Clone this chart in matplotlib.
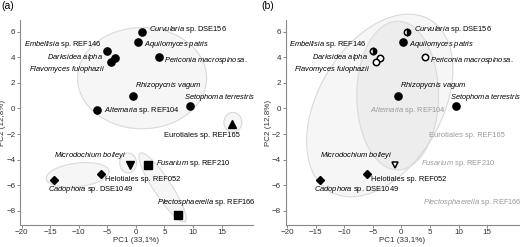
import numpy as np
import matplotlib
matplotlib.use("Agg")
import matplotlib.pyplot as plt

plt.rcParams['font.family'] = ['Liberation Sans', 'DejaVu Sans']
plt.rcParams['mathtext.fontset'] = 'custom'
plt.rcParams['mathtext.it'] = 'Liberation Sans:italic'
plt.rcParams['mathtext.rm'] = 'Liberation Sans'

# PCA scores
taxa = ["Curvularia sp. DSE156", "Aquilomyces patris", "Embellisia sp. REF146",
        "Darksidea alpha", "Flavomyces fulophazii", "Periconia macrospinosa.",
        "Rhizopycnis vagum", "Setophoma terrestris", "Alternaria sp. REF104",
        "Eurotiales sp. REF165", "Microdochium bolleyi", "Fusarium sp. REF210",
        "Plectosphaerella sp. REF166", "Helotiales sp. REF052", "Cadophora sp. DSE1049"]
pc1 = [1.0, 0.3, -5.0, -3.75, -4.45, 4.1, -0.6, 9.5, -6.8,
       16.9, -1.1, 2.1, 7.4, -6.1, -14.3]
pc2 = [5.95, 5.2, 4.45, 3.9, 3.65, 4.05, 1.0, 0.2, -0.1,
       -1.2, -4.45, -4.4, -8.35, -5.15, -5.55]
shape = ['o'] * 9 + ['^', 'v', 's', 's', 'D', 'D']
# panel (b) marker fill: full / half / open / None (no marker, grey label)
fill_b = ['half', 'full', 'half', 'open', 'open', 'open', 'full', 'full', None,
          None, 'open', None, None, 'full', 'full']
upright_genus = ["Eurotiales", "Helotiales"]

# label placement: offset in pixels (dx right, dy down), alignment
lab_pos = [(7, -3, 'left'), (6, 3, 'left'), (-6, -7, 'right'), (-12, -1, 'right'),
           (-6, 8, 'right'), (5, 4, 'left'), (2, -10, 'left'), (-6, -8, 'left'),
           (7, 1, 'left'), (7, 12, 'right'), (-3, -10, 'right'), (8, -1, 'left'),
           (-21, -13, 'left'), (4, 5, 'left'), (-6, 10, 'left')]

# group ellipses: centre, two conjugate semi-axes (data units)
ell_a = [((1.08, 2.36), (11.3, 0.0), (0.0, 3.95)),
         ((16.97, -1.09), (1.57, 0.0), (0.0, 0.78)),
         ((-1.36, -4.26), (1.48, 0.0), (0.0, 0.78)),
         ((4.66, -6.16), (3.93, -2.67), (1.31, 0.38)),
         ((-10.2, -5.19), (5.5, 0.25), (0.0, 0.93))]
ell_b = [((-3.8, 0.23), (8.73, 6.71), (9.37, -2.4)),
         ((-0.66, 1.0), (7.16, 0.0), (0.0, 5.8))]


def fmt(name):
    if " sp. " in name:
        genus, rest = name.split(" sp. ")
        if genus in upright_genus:
            return name
        return r"$\it{%s}$ sp. %s" % (genus, rest)
    return r"$\it{%s}$" % name.replace(" ", r"\ ")


def draw_ellipse(ax, c, a, b):
    t = np.linspace(0, 2 * np.pi, 200)
    x = c[0] + a[0] * np.cos(t) + b[0] * np.sin(t)
    y = c[1] + a[1] * np.cos(t) + b[1] * np.sin(t)
    ax.fill(x, y, facecolor='0.5', alpha=0.07, edgecolor='none', zorder=1, clip_on=False)
    ax.plot(x, y, color='#dadada', lw=0.8, zorder=1, clip_on=False)


def style_axes(ax):
    ax.set_xlim(-20.3, 20.5)
    ax.set_ylim(-9.1, 6.9)
    ax.set_xticks(range(-20, 16, 5))
    ax.set_yticks(range(-8, 7, 2))
    for s in ['top', 'right']:
        ax.spines[s].set_visible(False)
    for s in ['left', 'bottom']:
        ax.spines[s].set_color('#888888')
        ax.spines[s].set_linewidth(0.8)
    ax.tick_params(length=2, width=0.7, color='#888888', labelsize=5.8,
                   labelcolor='#333333', pad=1.2)
    ax.set_xlabel("PC1 (33,1%)", fontsize=5.8, color='#333333', labelpad=0.3)
    ax.set_ylabel("PC2 (12,8%)", fontsize=5.8, color='#333333', labelpad=0.3)
    ax.patch.set_alpha(0)


fig = plt.figure(figsize=(5.2, 2.47), dpi=100)
ax_a = fig.add_axes([20 / 520, 22 / 247, 233 / 520, 205 / 247])
ax_b = fig.add_axes([285.5 / 520, 22 / 247, 233 / 520, 205 / 247])

for ax, ells, panel in [(ax_a, ell_a, 'a'), (ax_b, ell_b, 'b')]:
    style_axes(ax)
    for c, a, b in ells:
        draw_ellipse(ax, c, a, b)
    for i, name in enumerate(taxa):
        f = 'full' if panel == 'a' else fill_b[i]
        ms = 3.6 if shape[i] == 'D' else 5.2
        if f == 'full':
            ax.plot(pc1[i], pc2[i], marker=shape[i], ms=ms, color='black', mec='black', zorder=3)
        elif f == 'open':
            ax.plot(pc1[i], pc2[i], marker=shape[i], ms=ms - 0.6, mfc='white', mec='black',
                    mew=1.1, zorder=3)
        elif f == 'half':
            ax.plot(pc1[i], pc2[i], marker=shape[i], ms=ms - 0.6, fillstyle='right',
                    color='black', mfc='black', mfcalt='white', mec='black', mew=1.1, zorder=3)
        dx, dy, ha = lab_pos[i]
        ax.annotate(fmt(name), (pc1[i], pc2[i]), xytext=(dx * 0.72, -dy * 0.72),
                    textcoords='offset points', ha=ha, va='center', fontsize=5.4,
                    color='black' if f else '#999999', zorder=4, annotation_clip=False)

fig.text(1 / 520, 1 - 1 / 247, "(a)", fontsize=7.5, va='top', ha='left')
fig.text(261 / 520, 1 - 1 / 247, "(b)", fontsize=7.5, va='top', ha='left')

fig.savefig("out.png", dpi=100)
